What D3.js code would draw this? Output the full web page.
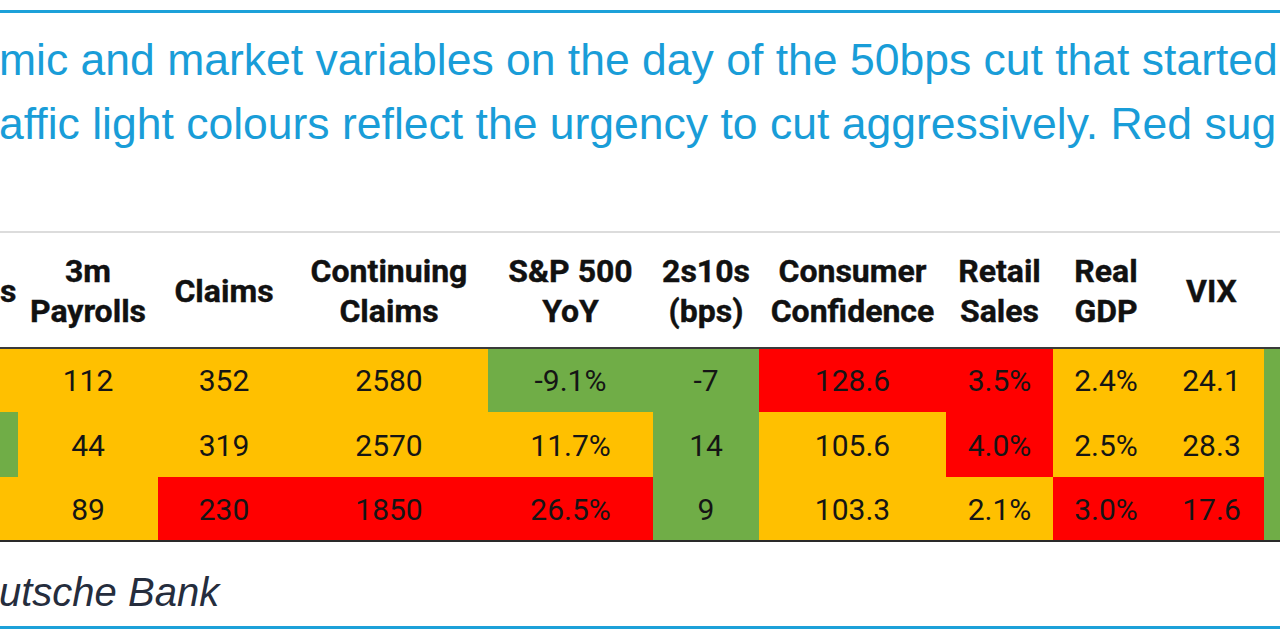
<!DOCTYPE html>
<html>
<head>
<meta charset="utf-8">
<script src="https://cdn.jsdelivr.net/npm/d3@7/dist/d3.min.js"></script>
<style>
  html, body { margin: 0; padding: 0; background: #fff; }
  svg { display: block; }
</style>
</head>
<body>
<svg id="chart" width="1280" height="640"></svg>
<script>
// ---------- DATA ----------
const titleLines = [
  "mic and market variables on the day of the 50bps cut that started",
  "affic light colours reflect the urgency to cut aggressively. Red sug"
];
const sourceText = "utsche Bank";

const headers = [
  ["s"],
  ["3m", "Payrolls"],
  ["Claims"],
  ["Continuing", "Claims"],
  ["S&P 500", "YoY"],
  ["2s10s", "(bps)"],
  ["Consumer", "Confidence"],
  ["Retail", "Sales"],
  ["Real", "GDP"],
  ["VIX"],
  []
];

const payrolls3m = [112, 44, 89];
const claims = [352, 319, 230];
const continuingClaims = [2580, 2570, 1850];
const spxYoY = [-9.1, 11.7, 26.5];
const curve2s10s = [-7, 14, 9];
const consumerConfidence = [128.6, 105.6, 103.3];
const retailSales = [3.5, 4.0, 2.1];
const realGDP = [2.4, 2.5, 3.0];
const vix = [24.1, 28.3, 17.6];

// traffic light status per row (G = green, Y = amber, R = red)
const statusRow1 = ["Y","Y","Y","Y","G","G","R","R","Y","Y","G"];
const statusRow2 = ["G","Y","Y","Y","Y","G","Y","R","Y","Y","G"];
const statusRow3 = ["Y","Y","R","R","R","G","Y","Y","R","R","G"];

// ---------- LAYOUT ----------
const W = 1280, H = 640;
const colWidths = [118, 140, 132, 198, 165, 106, 187, 107, 106, 105, 60];
const tableLeft = -100;
const bodyTop = 348, bodyBottom = 541;

const locale = d3.formatLocale({ decimal: ".", thousands: ",", grouping: [3], currency: ["", ""], minus: "-" });
const fmtInt = locale.format("d");
const fmt1 = locale.format(".1f");
const pct = v => fmt1(v) + "%";

const columnValues = [
  null,
  payrolls3m.map(fmtInt),
  claims.map(fmtInt),
  continuingClaims.map(fmtInt),
  spxYoY.map(pct),
  curve2s10s.map(fmtInt),
  consumerConfidence.map(fmt1),
  retailSales.map(pct),
  realGDP.map(pct),
  vix.map(fmt1),
  null
];
const statuses = [statusRow1, statusRow2, statusRow3];

const edges = [0, ...d3.cumsum(colWidths)];
const x = d3.scaleLinear().domain([0, edges[edges.length - 1]])
  .range([tableLeft, tableLeft + edges[edges.length - 1]]);
const y = d3.scaleBand().domain(d3.range(statuses.length)).range([bodyTop, bodyBottom]).padding(0);
const colour = d3.scaleOrdinal().domain(["G","Y","R"]).range(["#70AD47", "#FFC000", "#FF0000"]);

const svg = d3.select("#chart");

// top and bottom blue rules
svg.append("line").attr("x1", 0).attr("x2", W).attr("y1", 11.5).attr("y2", 11.5)
  .attr("stroke", "#1da1d9").attr("stroke-width", 3);
svg.append("line").attr("x1", 0).attr("x2", W).attr("y1", 627.5).attr("y2", 627.5)
  .attr("stroke", "#1da1d9").attr("stroke-width", 3);

// title
svg.append("g").selectAll("text").data(titleLines).join("text")
  .attr("x", -1).attr("y", (d, i) => 75 + i * 64)
  .attr("font-family", "'Liberation Sans', Arial, sans-serif")
  .attr("font-size", 44.5)
  .attr("fill", "#199dd8")
  .text(d => d);

// grey separator
svg.append("line").attr("x1", 0).attr("x2", W).attr("y1", 232).attr("y2", 232)
  .attr("stroke", "#dcdcdc").attr("stroke-width", 2);

// cells
const cells = [];
statuses.forEach((row, r) => row.forEach((s, c) => cells.push({ r, c, s })));
svg.append("g").attr("shape-rendering", "crispEdges").selectAll("rect").data(cells).join("rect")
  .attr("x", d => x(edges[d.c]))
  .attr("width", d => x(edges[d.c + 1]) - x(edges[d.c]) + 0.5)
  .attr("y", d => y(d.r))
  .attr("height", y.bandwidth() + 0.5)
  .attr("fill", d => colour(d.s));

// borders
svg.append("line").attr("x1", 0).attr("x2", W).attr("y1", bodyTop).attr("y2", bodyTop)
  .attr("stroke", "#3a3a3a").attr("stroke-width", 2);
svg.append("line").attr("x1", 0).attr("x2", W).attr("y1", bodyBottom).attr("y2", bodyBottom)
  .attr("stroke", "#2a2a2a").attr("stroke-width", 2);

// headers
const headG = svg.append("g")
  .attr("font-family", "Roboto, 'Liberation Sans', sans-serif")
  .attr("font-weight", "bold").attr("font-size", 32).attr("fill", "#111")
  .attr("stroke", "#111").attr("stroke-width", 0.4)
  .attr("text-anchor", "middle");
headers.forEach((lines, c) => {
  const cx = c === 0 ? 0 : (x(edges[c]) + x(edges[c + 1])) / 2;
  const base = lines.length === 1 ? 302 : 282;
  lines.forEach((t, i) => {
    headG.append("text")
      .attr("x", cx).attr("y", base + i * 40)
      .attr("text-anchor", c === 0 ? "start" : "middle")
      .text(t);
  });
});

// values
const valG = svg.append("g")
  .attr("font-family", "Roboto, 'Liberation Sans', sans-serif")
  .attr("font-size", 30).attr("fill", "#151515").attr("text-anchor", "middle");
columnValues.forEach((vals, c) => {
  if (!vals) return;
  const cx = (x(edges[c]) + x(edges[c + 1])) / 2;
  vals.forEach((v, r) => {
    valG.append("text")
      .attr("x", cx).attr("y", y(r) + y.bandwidth() / 2 + 11)
      .text(v);
  });
});

// source
svg.append("text").attr("x", -1).attr("y", 606)
  .attr("font-family", "'Liberation Sans', Arial, sans-serif")
  .attr("font-style", "italic").attr("font-size", 40).attr("fill", "#252d3d")
  .text(sourceText);
</script>
</body>
</html>
